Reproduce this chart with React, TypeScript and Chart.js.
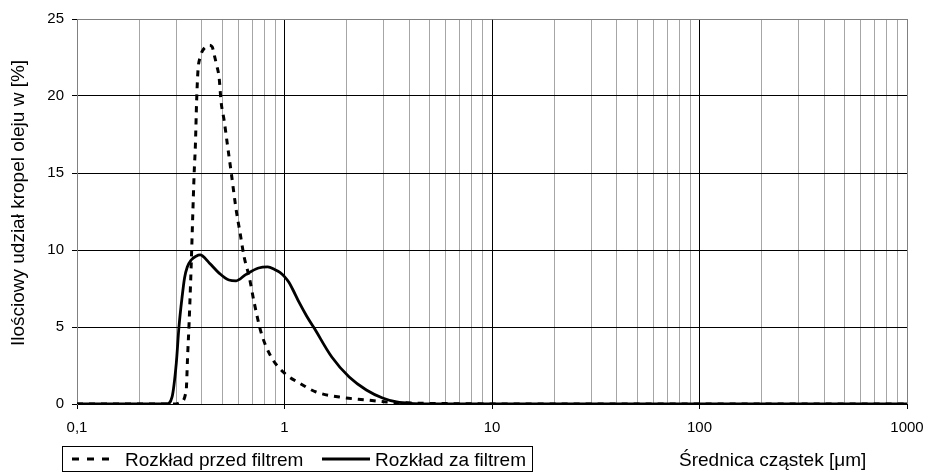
import React, { useEffect, useRef } from "react";
import { Chart, registerables } from "chart.js";

Chart.register(...registerables);

// ---- data ----
const X_DECADES = [0.1, 1, 10, 100, 1000];
const X_LABELS = ["0,1", "1", "10", "100", "1000"];
const Y_MIN = 0;
const Y_MAX = 25;
const Y_STEP = 5;

const SERIES_NAMES = ["Rozkład przed filtrem", "Rozkład za filtrem"];
const X_TITLE = "Średnica cząstek [μm]";
const Y_TITLE = "Ilościowy udział kropel oleju w [%]";

const BEFORE_X = [0.1, 0.2, 0.3, 0.315, 0.336, 0.341, 0.347, 0.353, 0.357, 0.361, 0.367, 0.372, 0.377, 0.383, 0.392, 0.401, 0.418, 0.434, 0.448, 0.458, 0.471, 0.484, 0.495, 0.512, 0.53, 0.554, 0.585, 0.611, 0.639, 0.676, 0.715, 0.773, 0.863, 1.0, 1.18, 1.42, 1.84, 2.48, 3.1, 4.5, 7, 12, 100, 1000];
const BEFORE_Y = [0, 0, 0, 0.1, 0.9, 3.0, 5.3, 8.0, 10.0, 12.1, 15.0, 16.8, 19.6, 21.7, 22.5, 22.9, 23.2, 23.3, 23.2, 22.7, 22.0, 21.2, 19.6, 18.4, 16.9, 15.0, 12.6, 11.1, 9.55, 8.25, 6.56, 4.6, 3.05, 2.0, 1.36, 0.78, 0.45, 0.26, 0.13, 0.05, 0.02, 0, 0, 0];

const AFTER_X = [0.1, 0.2, 0.27, 0.287, 0.301, 0.31, 0.321, 0.33, 0.34, 0.355, 0.375, 0.392, 0.434, 0.484, 0.54, 0.585, 0.65, 0.75, 0.83, 0.9, 0.95, 1.0, 1.05, 1.09, 1.18, 1.28, 1.39, 1.69, 2.05, 2.48, 2.97, 3.47, 4.2, 5, 100, 1000];
const AFTER_Y = [0, 0, 0, 0.45, 2.66, 5.0, 6.95, 8.2, 8.9, 9.35, 9.6, 9.68, 9.16, 8.5, 8.05, 8.0, 8.4, 8.83, 8.9, 8.72, 8.55, 8.27, 7.9, 7.5, 6.56, 5.7, 4.93, 3.05, 1.75, 0.91, 0.39, 0.13, 0.03, 0, 0, 0];

const FONT = "'Liberation Sans', Arial, sans-serif";
const DASH = [6, 6];

const isDecade = (v: number) => {
  const l = Math.log10(v);
  return Math.abs(l - Math.round(l)) < 1e-6;
};

const extrasPlugin = {
  id: "extras",
  afterDraw(chart: any) {
    const ctx = chart.ctx;
    ctx.save();
    ctx.fillStyle = "#000";
    ctx.font = `19px ${FONT}`;
    // y title
    ctx.save();
    ctx.translate(19, 203);
    ctx.rotate(-Math.PI / 2);
    ctx.textAlign = "center";
    ctx.textBaseline = "middle";
    ctx.fillText(Y_TITLE, 0, 0);
    ctx.restore();
    // x title
    ctx.textAlign = "left";
    ctx.textBaseline = "alphabetic";
    ctx.fillText(X_TITLE, 679, 466);
    // legend box
    ctx.strokeStyle = "#000";
    ctx.lineWidth = 1;
    ctx.strokeRect(62.5, 446.5, 470, 25);
    // dashed sample
    ctx.lineWidth = 3;
    ctx.setLineDash([7, 8]);
    ctx.beginPath();
    ctx.moveTo(72, 459);
    ctx.lineTo(117, 459);
    ctx.stroke();
    ctx.setLineDash([]);
    ctx.fillText(SERIES_NAMES[0], 125, 466);
    // solid sample
    ctx.lineWidth = 2.8;
    ctx.beginPath();
    ctx.moveTo(322, 459);
    ctx.lineTo(370, 459);
    ctx.stroke();
    ctx.fillText(SERIES_NAMES[1], 375, 466);
    ctx.restore();
  },
};

export default function App() {
  const ref = useRef<HTMLCanvasElement | null>(null);

  useEffect(() => {
    if (!ref.current) return;
    const before = BEFORE_X.map((x, i) => ({ x, y: BEFORE_Y[i] }));
    const after = AFTER_X.map((x, i) => ({ x, y: AFTER_Y[i] }));

    const chart = new Chart(ref.current, {
      type: "line",
      data: {
        datasets: [
          {
            label: SERIES_NAMES[1],
            data: after,
            borderColor: "#000",
            borderWidth: 2.8,
            pointRadius: 0,
            fill: false,
            cubicInterpolationMode: "monotone",
          },
          {
            label: SERIES_NAMES[0],
            data: before,
            borderColor: "#000",
            borderWidth: 3,
            borderDash: DASH,
            pointRadius: 0,
            fill: false,
            cubicInterpolationMode: "monotone",
          },
        ],
      },
      options: {
        responsive: false,
        animation: false,
        events: [],
        layout: { padding: { top: 19, right: 22, bottom: 0, left: 0 } },
        plugins: {
          legend: { display: false },
          tooltip: { enabled: false },
          title: { display: false },
        },
        scales: {
          x: {
            type: "logarithmic",
            min: X_DECADES[0],
            max: X_DECADES[X_DECADES.length - 1],
            afterBuildTicks: (scale: any) => {
              const vals: number[] = [];
              for (let i = 0; i < X_DECADES.length - 1; i++) {
                for (let m = 1; m <= 9; m++) vals.push(X_DECADES[i] * m);
              }
              vals.push(X_DECADES[X_DECADES.length - 1]);
              scale.ticks = vals.map((v) => ({ value: v, major: isDecade(v) }));
            },
            afterFit: (scale: any) => {
              scale.height = 68;
              scale.paddingLeft = 0;
              scale.paddingRight = 0;
              scale.paddingTop = 0;
              scale.paddingBottom = 0;
            },
            ticks: {
              autoSkip: false,
              maxRotation: 0,
              minRotation: 0,
              padding: 10,
              color: "#000",
              font: { family: FONT, size: 15 },
              callback: (value: any) => {
                const v = Number(value);
                if (!isDecade(v)) return "";
                const idx = X_DECADES.findIndex((d) => Math.abs(Math.log10(d) - Math.log10(v)) < 1e-6);
                return idx >= 0 ? X_LABELS[idx] : "";
              },
            },
            grid: {
              color: (c: any) => {
                const v = c.tick ? c.tick.value : 0;
                if (Math.abs(v - X_DECADES[0]) < 1e-9 || Math.abs(v - X_DECADES[X_DECADES.length - 1]) < 1e-6) return "#808080";
                return isDecade(v) ? "#000" : "#a6a6a6";
              },
              tickColor: (c: any) => (c.tick && isDecade(c.tick.value) ? "#000" : "rgba(0,0,0,0)"),
              tickLength: 5,
              lineWidth: 1,
            },
            border: { color: "#000", width: 1 },
          },
          y: {
            type: "linear",
            min: Y_MIN,
            max: Y_MAX,
            afterFit: (scale: any) => {
              scale.width = 77;
              scale.paddingLeft = 0;
              scale.paddingRight = 0;
              scale.paddingTop = 0;
              scale.paddingBottom = 0;
            },
            ticks: {
              stepSize: Y_STEP,
              padding: 8,
              color: "#000",
              font: { family: FONT, size: 15 },
            },
            grid: {
              color: (c: any) => (c.tick && c.tick.value === Y_MAX ? "#808080" : "#000"),
              tickColor: "#000",
              tickLength: 5,
              lineWidth: 1,
            },
            border: { color: "#808080", width: 1 },
          },
        },
      },
      plugins: [extrasPlugin],
    } as any);

    return () => chart.destroy();
  }, []);

  return (
    <div style={{ position: "absolute", left: 0, top: 0, width: 929, height: 472, background: "#fff" }}>
      <canvas ref={ref} width={929} height={472} style={{ display: "block" }} />
    </div>
  );
}
